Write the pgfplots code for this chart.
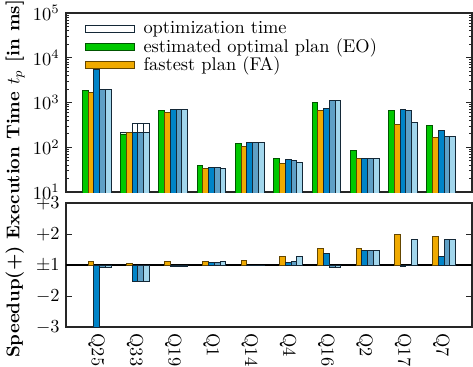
\documentclass[border=0pt]{standalone}
\usepackage{pgfplots}
\usepackage{pgfplotstable}
\pgfplotsset{compat=1.18}

\definecolor{eogreen}{RGB}{0,200,0}
\definecolor{eogreenD}{RGB}{0,85,0}
\definecolor{faorange}{RGB}{240,170,0}
\definecolor{faorangeD}{RGB}{100,70,0}
\definecolor{pblue}{RGB}{0,132,200}
\definecolor{pmid}{RGB}{95,160,198}
\definecolor{plight}{RGB}{162,214,236}
\definecolor{bdark}{RGB}{20,40,55}

% execution time [ms] per plan; *t columns include the optimization time
\pgfplotstableread{
g  EO    FA    B1    B2    B3    EOt   FAt   B1t   B2t   B3t
0  1880  1640  5510  1945  1945  1880  1640  5510  1990  1990
1  198   212   215   215   215   219   212   336   336   336
2  664   589   698   711   711   664   589   700   711   711
3  39.2  34.1  34.8  34.8  34.0  39.2  34.1  34.8  34.8  34.0
4  120   105   125   125   125   120   105   125   125   125
5  56    44    52.4  51.4  44.9  56    44    52.4  51.4  44.9
6  1017  676   748   1107  1107  1017  676   748   1107  1107
7  83    55    57    57    57    83    55    57    57    57
8  653   330   698   676   353   653   330   698   676   353
9  313   164   243   173   173   313   164   243   173   173
}\exectime

% speedup relative to EO on the symmetric scale (0 = x1, +1 = x2, -1 = /2)
\pgfplotstableread{
g  FA    B1     B2     B3
0  0.13  -2.0   -0.065 -0.065
1  0.04  -0.53  -0.53  -0.53
2  0.11  -0.06  -0.06  -0.06
3  0.13  0.09   0.09   0.12
4  0.16  -0.01  -0.01  -0.02
5  0.29  0.09   0.10   0.27
6  0.52  0.37   -0.09  -0.09
7  0.52  0.47   0.47   0.46
8  0.98  -0.05  -0.02  0.84
9  0.92  0.29   0.84   0.83
}\speedup

\begin{document}
\begin{tikzpicture}
% fixed page frame around both panels
\useasboundingbox (-35.9pt,7.07pt) rectangle (221.2pt,-192.4pt);
\pgfplotsset{
  panel/.style={
    scale only axis, width=220.6pt,
    xmin=-0.8, xmax=9.8,
    ybar, bar width=0.15, bar shift=0pt,
    tick align=inside,
    major tick length=3pt, minor tick length=1.8pt,
    axis line style={black!85, line width=0.8pt},
    every tick/.style={black!85},
  },
  whitebar/.style={fill=white, draw=bdark, line width=0.5pt},
  greenbar/.style={fill=eogreen, draw=eogreenD, line width=0.5pt},
  orangebar/.style={fill=faorange, draw=faorangeD, line width=0.5pt},
  b1bar/.style={fill=pblue, draw=bdark, line width=0.5pt},
  b2bar/.style={fill=pmid, draw=bdark, line width=0.5pt},
  b3bar/.style={fill=plight, draw=bdark, line width=0.5pt},
}
\begin{axis}[panel, name=upper, at={(0,0)}, anchor=north west,
  height=97.3pt,
  ymode=log, ymin=10, ymax=1e5,
  ytick={10,100,1000,10000,100000},
  xtick=\empty,
  ylabel={\bfseries Speedup(+) Execution Time $t_p$ [in ms]},
  ylabel style={at={(axis description cs:-0.1256,0.073)}, anchor=center, rotate=0},
  legend style={at={(0.045,0.964)}, anchor=north west, draw=none, fill=none,
    inner sep=0pt, row sep=-1pt, cells={anchor=west},
    nodes={inner sep=1pt},
    /tikz/every odd column/.append style={column sep=3.5pt}},
  legend image code/.code={\draw[#1] (0pt,-1.9pt) rectangle (27pt,1.9pt);},
  legend cell align=left,
]
\addplot[whitebar] table[x expr=\thisrow{g}-0.30, y=EOt] {\exectime};
\addlegendentry{optimization time}
\addplot[whitebar, forget plot] table[x expr=\thisrow{g}-0.15, y=FAt] {\exectime};
\addplot[whitebar, forget plot] table[x expr=\thisrow{g}, y=B1t] {\exectime};
\addplot[whitebar, forget plot] table[x expr=\thisrow{g}+0.15, y=B2t] {\exectime};
\addplot[whitebar, forget plot] table[x expr=\thisrow{g}+0.30, y=B3t] {\exectime};
\addplot[greenbar] table[x expr=\thisrow{g}-0.30, y=EO] {\exectime};
\addlegendentry{estimated optimal plan (EO)}
\addplot[orangebar] table[x expr=\thisrow{g}-0.15, y=FA] {\exectime};
\addlegendentry{fastest plan (FA)}
\addplot[b1bar, forget plot] table[x expr=\thisrow{g}, y=B1] {\exectime};
\addplot[b2bar, forget plot] table[x expr=\thisrow{g}+0.15, y=B2] {\exectime};
\addplot[b3bar, forget plot] table[x expr=\thisrow{g}+0.30, y=B3] {\exectime};
\end{axis}

\begin{axis}[panel, name=lower, at={(upper.south west)}, yshift=-6pt, anchor=north west,
  height=67.4pt,
  ymin=-2, ymax=2,
  ytick={-2,-1,0,1,2},
  yticklabels={$-3$,$-2$,$\pm1$,$+2$,$+3$},
  xtick={0,...,9},
  xticklabels={Q25,Q33,Q19,Q1,Q14,Q4,Q16,Q2,Q17,Q7},
  xticklabel style={rotate=-90, anchor=west},
  x tick style={draw=none},
  extra y ticks={0},
  extra y tick labels={},
  extra y tick style={grid=major, major grid style={black, line width=0.6pt}, tick style={draw=none}},
]
\addplot[orangebar] table[x expr=\thisrow{g}-0.15, y=FA] {\speedup};
\addplot[b1bar] table[x expr=\thisrow{g}, y=B1] {\speedup};
\addplot[b2bar] table[x expr=\thisrow{g}+0.15, y=B2] {\speedup};
\addplot[b3bar] table[x expr=\thisrow{g}+0.30, y=B3] {\speedup};
\end{axis}
\end{tikzpicture}
\end{document}
